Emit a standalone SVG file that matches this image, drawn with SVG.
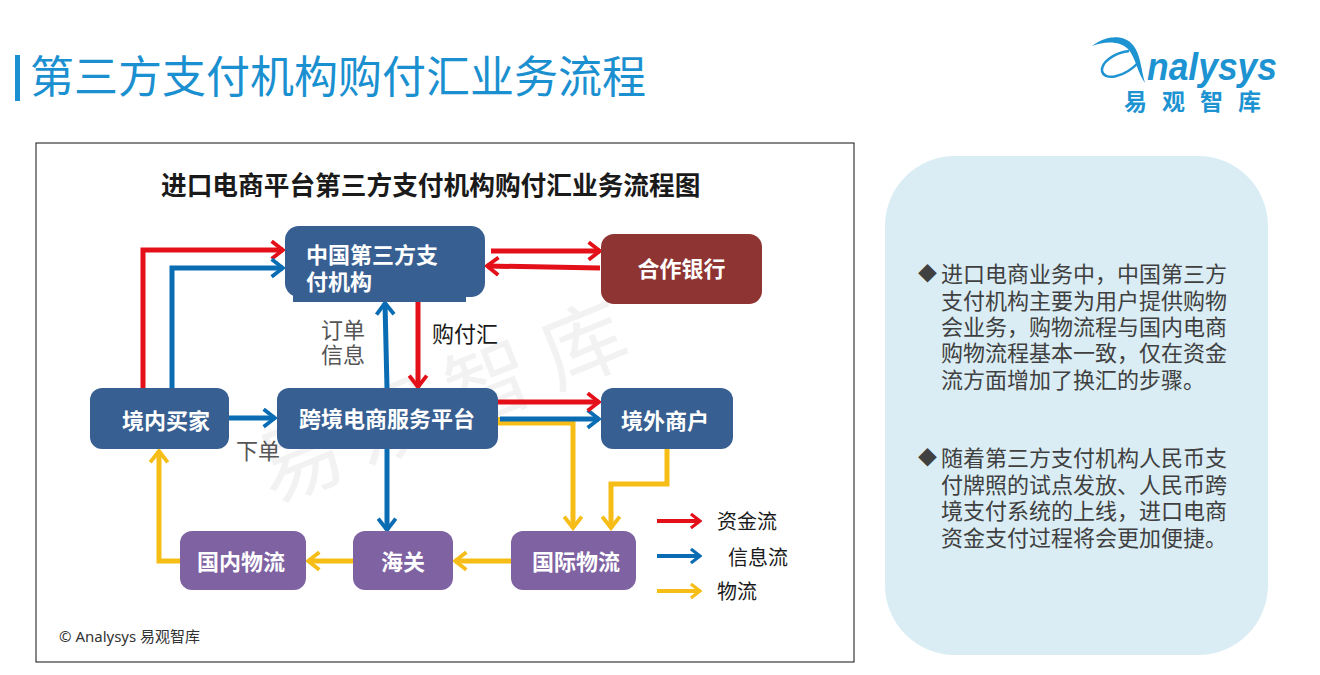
<svg xmlns="http://www.w3.org/2000/svg" width="1320" height="675" viewBox="0 0 1320 675">
<style>
text{font-family:"Liberation Sans","Noto Sans CJK SC",sans-serif}
.n{font-size:22px;font-weight:700;fill:#fff}
.blue{fill:#375f92}.purple{fill:#7e62a2}.brown{fill:#8e3432}
.l{fill:none;stroke-width:5;stroke-linejoin:miter}
.r{stroke:#e3101a}.b{stroke:#0a6db3}.y{stroke:#f7bd17}
.lab{font-size:22px;fill:#555}
.leg{font-size:20px;fill:#1a1a1a}
.side{font-size:22px;fill:#404040}
</style>
<defs>
<marker id="mr" viewBox="0 0 10 12" markerWidth="3.6" markerHeight="4.2" refX="8.5" refY="6" orient="auto"><path d="M2 1L8.5 6L2 11" fill="none" stroke="#e3101a" stroke-width="2.2"/></marker>
<marker id="mb" viewBox="0 0 10 12" markerWidth="3.6" markerHeight="4.2" refX="8.5" refY="6" orient="auto"><path d="M2 1L8.5 6L2 11" fill="none" stroke="#0a6db3" stroke-width="2.2"/></marker>
<marker id="my" viewBox="0 0 10 12" markerWidth="3.6" markerHeight="4.2" refX="8.5" refY="6" orient="auto"><path d="M2 1L8.5 6L2 11" fill="none" stroke="#f7bd17" stroke-width="2.2"/></marker>
</defs>
<rect width="1320" height="675" fill="#fff"/>
<rect id="title-bar" x="15" y="55" width="5" height="46" fill="#1b90d0"/>
<text id="title" x="30" y="93" font-size="44" fill="#1b90d0" font-weight="400">第三方支付机构购付汇业务流程</text>
<g id="logo">
<path d="M1092 46C1106 35 1124 34 1133 45C1141 55 1141 70 1145 83C1137 72 1136 58 1128 49C1120 41 1105 41 1092 46Z" fill="#1d93d2"/>
<path d="M1129 51C1113 53 1101 63 1102 71C1104 81 1124 78 1139 62" fill="none" stroke="#1d93d2" stroke-width="2.5"/>
<text x="1147" y="80" font-size="39" font-style="italic" font-weight="700" fill="#1d93d2" textLength="130" lengthAdjust="spacingAndGlyphs">nalysys</text>
<text x="1124" y="110" font-size="23" font-weight="700" fill="#1d93d2" letter-spacing="15">易观智库</text>
</g>
<rect id="chart-frame" x="36" y="143" width="818" height="519" fill="#fff" stroke="#111" stroke-width="1"/>
<text id="chart-title" x="161" y="195" font-size="25.7" font-weight="700" fill="#1a1a1a">进口电商平台第三方支付机构购付汇业务流程图</text>
<text id="watermark" transform="translate(272 504) rotate(-22)" font-size="85" fill="#f2f2f2" letter-spacing="17">易观智库</text>
<g id="connectors">
<path class="l r" d="M143 388V250H283" marker-end="url(#mr)"/>
<path class="l b" d="M172 388V268H283" marker-end="url(#mb)"/>
<path class="l b" d="M387 388L385 303" marker-end="url(#mb)"/>
<path class="l r" d="M418 297V387" marker-end="url(#mr)"/>
<path class="l b" d="M229 418H275" marker-end="url(#mb)"/>
<path class="l r" d="M491 251H600" marker-end="url(#mr)"/>
<path class="l r" d="M600 268L487 266" marker-end="url(#mr)"/>
<path class="l y" d="M498 417V423H573V528" marker-end="url(#my)"/>
<path class="l b" d="M500 419H599" marker-end="url(#mb)"/>
<path class="l r" d="M495 402H599" marker-end="url(#mr)"/>
<path class="l y" d="M667 449V484H611V528" marker-end="url(#my)"/>
<path class="l b" d="M387 449V530" marker-end="url(#mb)"/>
<path class="l y" d="M511 561H455" marker-end="url(#my)"/>
<path class="l y" d="M353 561H308" marker-end="url(#my)"/>
<path class="l y" d="M180 561H159V451" marker-end="url(#my)"/>
</g>
<g id="node-pay"><rect x="285" y="226" width="200" height="71" rx="14" class="blue"/><rect x="293" y="280" width="173" height="22" class="blue"/>
<text class="n"><tspan x="306" y="263">中国第三方支</tspan><tspan x="306" y="290">付机构</tspan></text></g>
<g id="node-bank"><rect x="601" y="234" width="161" height="70" rx="13" class="brown"/><text class="n" x="681.500" y="277" text-anchor="middle">合作银行</text></g>
<g id="node-buyer"><rect x="90" y="388" width="139" height="61" rx="12" class="blue"/><text class="n" x="166" y="429" text-anchor="middle">境内买家</text></g>
<g id="node-platform"><rect x="277" y="388" width="221" height="61" rx="12" class="blue"/><text class="n" x="387" y="427" text-anchor="middle">跨境电商服务平台</text></g>
<g id="node-merchant"><rect x="601" y="388" width="132" height="61" rx="12" class="blue"/><text class="n" x="665" y="429" text-anchor="middle">境外商户</text></g>
<g id="node-domestic"><rect x="180" y="531" width="126" height="59" rx="12" class="purple"/><text class="n" x="241" y="570" text-anchor="middle">国内物流</text></g>
<g id="node-customs"><rect x="353" y="531" width="100" height="59" rx="12" class="purple"/><text class="n" x="403" y="570" text-anchor="middle">海关</text></g>
<g id="node-intl"><rect x="511" y="531" width="125" height="59" rx="12" class="purple"/><text class="n" x="576" y="570" text-anchor="middle">国际物流</text></g>
<text class="lab"><tspan x="321" y="338">订单</tspan><tspan x="321" y="363">信息</tspan></text>
<text class="lab" x="432" y="342" style="fill:#1a1a1a">购付汇</text>
<text class="lab" x="236" y="459">下单</text>
<g id="legend">
<path class="l r" d="M657 521H700" marker-end="url(#mr)" style="stroke-width:4"/>
<path class="l b" d="M657 556H700" marker-end="url(#mb)" style="stroke-width:4"/>
<path class="l y" d="M657 591H700" marker-end="url(#my)" style="stroke-width:4"/>
<text class="leg" x="717" y="529">资金流</text><text class="leg" x="728" y="565">信息流</text><text class="leg" x="717" y="599">物流</text>
</g>
<text id="credit" x="59" y="642" font-size="15" fill="#333" style="font-family:'Noto Sans','Noto Sans CJK SC',sans-serif">© Analysys 易观智库</text>
<g id="side-panel"><rect x="885" y="156" width="383" height="499" rx="70" fill="#daedf4"/>
<text class="side"><tspan x="918" y="281" style="font-size:19px">◆</tspan><tspan x="941" y="282">进口电商业务中，中国第三方</tspan><tspan x="941" y="309">支付机构主要为用户提供购物</tspan><tspan x="941" y="335">会业务，购物流程与国内电商</tspan><tspan x="941" y="361">购物流程基本一致，仅在资金</tspan><tspan x="941" y="388">流方面增加了换汇的步骤。</tspan></text>
<text class="side"><tspan x="918" y="465" style="font-size:19px">◆</tspan><tspan x="941" y="466">随着第三方支付机构人民币支</tspan><tspan x="941" y="493">付牌照的试点发放、人民币跨</tspan><tspan x="941" y="519">境支付系统的上线，进口电商</tspan><tspan x="941" y="546">资金支付过程将会更加便捷。</tspan></text>
</g>
</svg>
